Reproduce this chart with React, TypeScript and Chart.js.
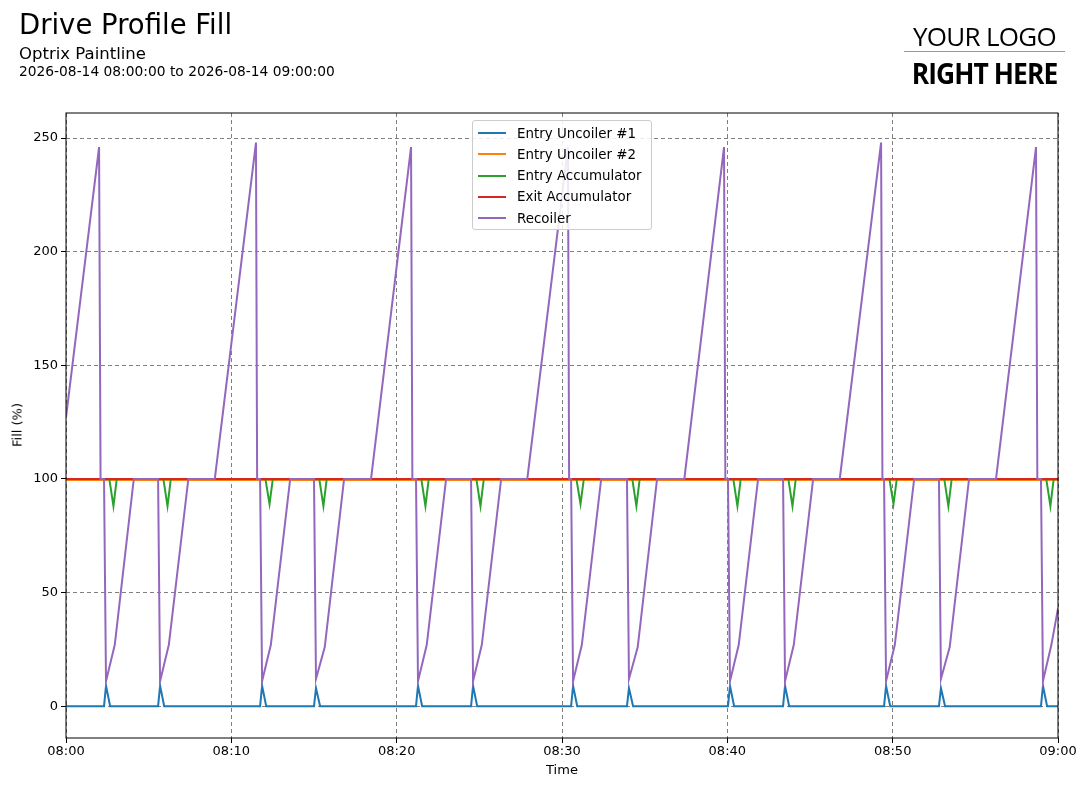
import React, { useEffect, useRef } from "react";
import { Chart, registerables } from "chart.js";
Chart.register(...registerables);

const xTickLabels = ["08:00", "08:10", "08:20", "08:30", "08:40", "08:50", "09:00"];
const seriesNames = ["Entry Uncoiler #1", "Entry Uncoiler #2", "Entry Accumulator", "Exit Accumulator", "Recoiler"];
const seriesColors = ["#1f77b4", "#ff7f0e", "#2ca02c", "#d62728", "#9467bd"];

// [minutes after 08:00, value]
const uncoiler1: number[][] = [
  [0, 0], [2.3, 0], [2.42, 9], [2.67, 0], [5.57, 0], [5.69, 9], [5.94, 0], [11.74, 0], [11.86, 9], [12.11, 0],
  [15.0, 0], [15.12, 8], [15.37, 0], [21.17, 0], [21.29, 9], [21.54, 0], [24.5, 0], [24.62, 9], [24.87, 0],
  [30.55, 0], [30.67, 9], [30.92, 0], [33.93, 0], [34.05, 8], [34.3, 0], [40.04, 0], [40.16, 9], [40.41, 0],
  [43.37, 0], [43.49, 9], [43.74, 0], [49.48, 0], [49.6, 9], [49.85, 0], [52.8, 0], [52.92, 8], [53.17, 0],
  [58.97, 0], [59.09, 9], [59.34, 0], [60, 0],
];
const uncoiler2: number[][] = [[0, 99.5], [60, 99.5]];
const entryAccum: number[][] = [
  [0, 100], [2.62, 100], [2.87, 88], [3.07, 100], [5.89, 100], [6.14, 88], [6.34, 100], [12.06, 100], [12.31, 89], [12.51, 100],
  [15.32, 100], [15.57, 88], [15.77, 100], [21.49, 100], [21.74, 88], [21.94, 100], [24.82, 100], [25.07, 88], [25.27, 100],
  [30.87, 100], [31.12, 89], [31.32, 100], [34.25, 100], [34.5, 88], [34.7, 100], [40.36, 100], [40.61, 88], [40.81, 100],
  [43.69, 100], [43.94, 88], [44.14, 100], [49.8, 100], [50.05, 89], [50.25, 100], [53.12, 100], [53.37, 88], [53.57, 100],
  [59.29, 100], [59.54, 88], [59.74, 100], [60, 100],
];
const exitAccum: number[][] = [[0, 100], [60, 100]];
const recoiler: number[][] = [
  [0, 127], [2.0, 246], [2.09, 100], [2.3, 100], [2.42, 11], [2.95, 27], [4.1, 100], [5.57, 100], [5.69, 11], [6.22, 27], [7.4, 100],
  [9.0, 100], [11.49, 248], [11.56, 100], [11.74, 100], [11.86, 11], [12.39, 27], [13.56, 100], [15.0, 100], [15.12, 12], [15.65, 26], [16.82, 100],
  [18.45, 100], [20.87, 246], [20.95, 100], [21.17, 100], [21.29, 11], [21.82, 27], [22.99, 100], [24.5, 100], [24.62, 11], [25.15, 27], [26.32, 100],
  [27.9, 100], [30.36, 246], [30.43, 100], [30.55, 100], [30.67, 11], [31.2, 27], [32.37, 100], [33.93, 100], [34.05, 12], [34.58, 26], [35.75, 100],
  [37.4, 100], [39.8, 246], [39.88, 100], [40.04, 100], [40.16, 11], [40.69, 27], [41.86, 100], [43.37, 100], [43.49, 11], [44.02, 27], [45.19, 100],
  [46.8, 100], [49.3, 248], [49.38, 100], [49.48, 100], [49.6, 11], [50.13, 27], [51.3, 100], [52.8, 100], [52.92, 12], [53.45, 26], [54.62, 100],
  [56.25, 100], [58.67, 246], [58.75, 100], [58.97, 100], [59.09, 11], [59.6, 27], [60, 43],
];
const allSeries = [uncoiler1, uncoiler2, entryAccum, exitAccum, recoiler];
const drawOrder = [5, 4, 3, 2, 1];

const font = "'DejaVu Sans', sans-serif";

export default function App() {
  const ref = useRef<HTMLCanvasElement>(null);
  useEffect(() => {
    const frame = {
      id: "frame",
      afterDraw(c: any) {
        const a = c.chartArea;
        const ctx = c.ctx;
        ctx.save();
        ctx.strokeStyle = "#000";
        ctx.lineWidth = 1;
        ctx.strokeRect(a.left, a.top, a.right - a.left, a.bottom - a.top);
        ctx.restore();
      },
    };
    const chart = new Chart(ref.current!, {
      type: "line",
      data: {
        datasets: allSeries.map((s, i) => ({
          label: seriesNames[i],
          data: s.map(([x, y]) => ({ x, y })),
          borderColor: seriesColors[i],
          backgroundColor: seriesColors[i],
          borderWidth: 2,
          pointRadius: 0,
          tension: 0,
          order: drawOrder[i],
        })),
      },
      options: {
        animation: false,
        responsive: false,
        layout: { padding: { left: 0, top: 113, right: 29, bottom: 0 } },
        plugins: { legend: { display: false }, tooltip: { enabled: false } },
        scales: {
          x: {
            type: "linear",
            min: 0,
            max: 60,
            afterFit: (s: any) => { s.height = 50; },
            ticks: {
              stepSize: 10,
              autoSkip: false,
              maxRotation: 0,
              color: "#000",
              font: { family: font, size: 13 },
              padding: 1,
              callback: (v: any) => xTickLabels[Math.round(Number(v) / 10)] ?? "",
            },
            grid: { color: "#808080", tickColor: "#000", tickLength: 5, drawOnChartArea: true },
            border: { display: false, dash: [4, 3] } as any,
          },
          y: {
            min: -14,
            max: 261,
            afterFit: (s: any) => { s.width = 66; },
            afterBuildTicks: (s: any) => { s.ticks = [0, 50, 100, 150, 200, 250].map((v) => ({ value: v })); },
            ticks: { color: "#000", font: { family: font, size: 13 } },
            grid: { color: "#808080", tickColor: "#000", tickLength: 5 },
            border: { display: false, dash: [4, 3] } as any,
          },
        },
      },
      plugins: [frame],
    } as any);
    return () => chart.destroy();
  }, []);

  return (
    <div style={{ position: "relative", width: 1087, height: 788, margin: -8, fontFamily: font, color: "#000", background: "#fff" }}>
      <canvas ref={ref} width={1087} height={788} style={{ position: "absolute", left: 0, top: 0 }} />
      <div style={{ position: "absolute", left: 19, top: 8, fontSize: 27.5 }}>Drive Profile Fill</div>
      <div style={{ position: "absolute", left: 19, top: 44, fontSize: 16.5 }}>Optrix Paintline</div>
      <div style={{ position: "absolute", left: 19, top: 63, fontSize: 13.8 }}>2026-08-14 08:00:00 to 2026-08-14 09:00:00</div>
      <div style={{ position: "absolute", left: 0, top: 762, width: 1124, textAlign: "center", fontSize: 13 }}>Time</div>
      <div style={{ position: "absolute", left: 17, top: 425, fontSize: 13, transform: "translate(-50%,-50%) rotate(-90deg)", whiteSpace: "nowrap" }}>Fill (%)</div>
      <div style={{ position: "absolute", left: 904, top: 18, width: 161, textAlign: "center", fontFamily: "'Open Sans', sans-serif", fontSize: 26, letterSpacing: -0.7 }}>YOUR LOGO</div>
      <div style={{ position: "absolute", left: 904, top: 51, width: 161, height: 1, background: "#999" }} />
      <div style={{ position: "absolute", left: 884, top: 53, width: 201, textAlign: "center", fontFamily: "'Open Sans', sans-serif", fontWeight: 700, fontSize: 29, letterSpacing: -1, transform: "scaleX(0.91)" }}>RIGHT HERE</div>
      <div style={{ position: "absolute", left: 472, top: 120, width: 178, height: 108, border: "1px solid #ccc", borderRadius: 3, background: "rgba(255,255,255,0.85)" }}>
        {seriesNames.map((n, i) => (
          <div key={n} style={{ position: "absolute", left: 5, top: 3 + i * 21.3, height: 18, display: "flex", alignItems: "center", fontSize: 13.4 }}>
            <div style={{ width: 28, height: 2, background: seriesColors[i], marginRight: 11 }} />
            {n}
          </div>
        ))}
      </div>
    </div>
  );
}
